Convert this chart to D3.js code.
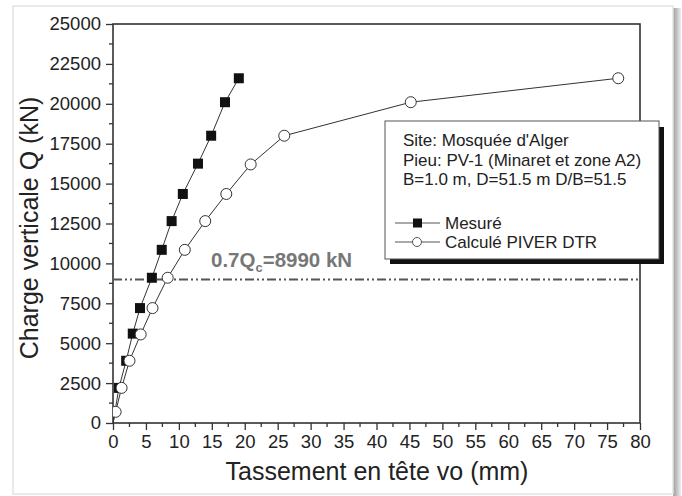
<!DOCTYPE html>
<html><head><meta charset="utf-8">
<script src="https://cdn.jsdelivr.net/npm/d3@7"></script>
<style>body{margin:0;background:#fff}svg{display:block;font-family:"Liberation Sans",Arial,sans-serif}</style>
</head><body>
<svg id="c" width="682" height="496"></svg>
<script>
// Data
const mesureX = [0, 0.9, 2.0, 3.0, 4.1, 5.9, 7.4, 8.9, 10.6, 12.9, 14.9, 17.0, 19.1];
const mesureY = [0, 2200, 3900, 5600, 7200, 9100, 10850, 12650, 14350, 16250, 18000, 20100, 21600];
const calcX = [0, 0.4, 1.3, 2.5, 4.2, 6.0, 8.3, 10.9, 14.0, 17.2, 20.9, 26.0, 45.2, 76.7];
const calcY = [0, 700, 2200, 3900, 5550, 7200, 9100, 10850, 12650, 14350, 16200, 18000, 20100, 21600];
const xTicks = [0,5,10,15,20,25,30,35,40,45,50,55,60,65,70,75,80];
const yTicks = [0,2500,5000,7500,10000,12500,15000,17500,20000,22500,25000];
const threshold = 8990;
const legendLines = ["Site: Mosquée d'Alger","Pieu: PV-1 (Minaret et zone A2)","B=1.0 m, D=51.5 m D/B=51.5"];
const seriesNames = ["Mesuré","Calculé PIVER DTR"];

const svg = d3.select("#c");
const defs = svg.append("defs");
const g1 = defs.append("linearGradient").attr("id","sh").attr("x1","0").attr("x2","1");
g1.append("stop").attr("offset","0").attr("stop-color","#9a9a9a");
g1.append("stop").attr("offset","1").attr("stop-color","#eeeeee");
svg.append("rect").attr("x",673).attr("y",8).attr("width",8).attr("height",488).attr("fill","url(#sh)");
svg.append("rect").attr("x",13).attr("y",6).attr("width",660).attr("height",488).attr("fill","#fff").attr("stroke","#e4e4e4").attr("stroke-width",1.5);

const L=113,R=640,T=24,B=423;
const x = d3.scaleLinear().domain([0,80]).range([L,R]);
const y = d3.scaleLinear().domain([0,25000]).range([B,T]);

defs.append("clipPath").attr("id","clip").append("rect").attr("x",L).attr("y",T).attr("width",R-L).attr("height",B-T);

const minorX = d3.range(2.5,80,5);
const minorY = d3.range(1250,25000,2500);
svg.append("g").selectAll("line").data(minorX).join("line")
  .attr("x1",d=>x(d)).attr("x2",d=>x(d)).attr("y1",B).attr("y2",B+4).attr("stroke","#333").attr("stroke-width",1.3);
svg.append("g").selectAll("line").data(minorY).join("line")
  .attr("y1",d=>y(d)).attr("y2",d=>y(d)).attr("x1",L).attr("x2",L-4).attr("stroke","#333").attr("stroke-width",1.3);

const xAxis = svg.append("g").attr("transform",`translate(0,${B})`)
  .call(d3.axisBottom(x).tickValues(xTicks).tickSize(7).tickPadding(5).tickFormat(d3.format("d")));
const yAxis = svg.append("g").attr("transform",`translate(${L},0)`)
  .call(d3.axisLeft(y).tickValues(yTicks).tickSize(7).tickPadding(5).tickFormat(d3.format("d")));
[xAxis,yAxis].forEach(a=>{
  a.select(".domain").remove();
  a.selectAll(".tick line").attr("stroke","#333").attr("stroke-width",1.3);
  a.selectAll("text").attr("font-size",18.5).attr("fill","#222").attr("font-family","'Liberation Sans',Arial,sans-serif");
});
svg.append("rect").attr("x",L).attr("y",T).attr("width",R-L).attr("height",B-T).attr("fill","none").attr("stroke","#333").attr("stroke-width",1.6);

svg.append("line").attr("x1",L).attr("x2",R).attr("y1",y(threshold)).attr("y2",y(threshold))
  .attr("stroke","#555").attr("stroke-width",2).attr("stroke-dasharray","9,3,2,3,2,3");

const ann = svg.append("text").attr("x",211).attr("y",267).attr("font-size",20.5).attr("font-weight","bold").attr("fill","#777");
ann.append("tspan").text("0.7Q");
ann.append("tspan").attr("font-size",13).attr("dy",5).text("c");
ann.append("tspan").attr("dy",-5).text("=8990 kN");

const plot = svg.append("g").attr("clip-path","url(#clip)");
const line = d3.line().x(d=>x(d[0])).y(d=>y(d[1]));
const mPts = mesureX.map((v,i)=>[v,mesureY[i]]);
const cPts = calcX.map((v,i)=>[v,calcY[i]]);
plot.append("path").attr("d",line(mPts)).attr("fill","none").attr("stroke","#333").attr("stroke-width",1);
plot.append("path").attr("d",line(cPts)).attr("fill","none").attr("stroke","#333").attr("stroke-width",1);
plot.selectAll("rect.m").data(mPts.slice(1)).join("rect").attr("class","m")
  .attr("x",d=>x(d[0])-5).attr("y",d=>y(d[1])-5).attr("width",10).attr("height",10).attr("fill","#111");
plot.selectAll("circle.c").data(cPts.slice(1)).join("circle").attr("class","c")
  .attr("cx",d=>x(d[0])).attr("cy",d=>y(d[1])).attr("r",5.5).attr("fill","#fff").attr("stroke","#333").attr("stroke-width",1);

const lg = svg.append("g");
lg.append("rect").attr("x",390).attr("y",127).attr("width",274).attr("height",137).attr("fill","#111");
lg.append("rect").attr("x",385).attr("y",121).attr("width",274).attr("height",138).attr("fill","#fff").attr("stroke","#555").attr("stroke-width",1);
lg.selectAll("text.h").data(legendLines).join("text").attr("class","h")
  .attr("x",403).attr("y",(d,i)=>146+i*19.5).attr("font-size",17).attr("fill","#222").text(d=>d);
const ys=[229,248];
seriesNames.forEach((n,i)=>{
  lg.append("line").attr("x1",395).attr("x2",440).attr("y1",ys[i]-6).attr("y2",ys[i]-6).attr("stroke","#555").attr("stroke-width",1);
  if(i===0) lg.append("rect").attr("x",413).attr("y",ys[i]-10.5).attr("width",9).attr("height",9).attr("fill","#111");
  else lg.append("circle").attr("cx",417).attr("cy",ys[i]-6).attr("r",4.5).attr("fill","#fff").attr("stroke","#555");
  lg.append("text").attr("x",445).attr("y",ys[i]).attr("font-size",17).attr("fill","#222").text(n);
});

svg.append("text").attr("x",377).attr("y",480).attr("text-anchor","middle").attr("font-size",25).attr("fill","#222").text("Tassement en tête vo (mm)");
svg.append("text").attr("transform","translate(38,228) rotate(-90)").attr("text-anchor","middle").attr("font-size",25).attr("fill","#222").text("Charge verticale Q (kN)");
</script>
</body></html>
